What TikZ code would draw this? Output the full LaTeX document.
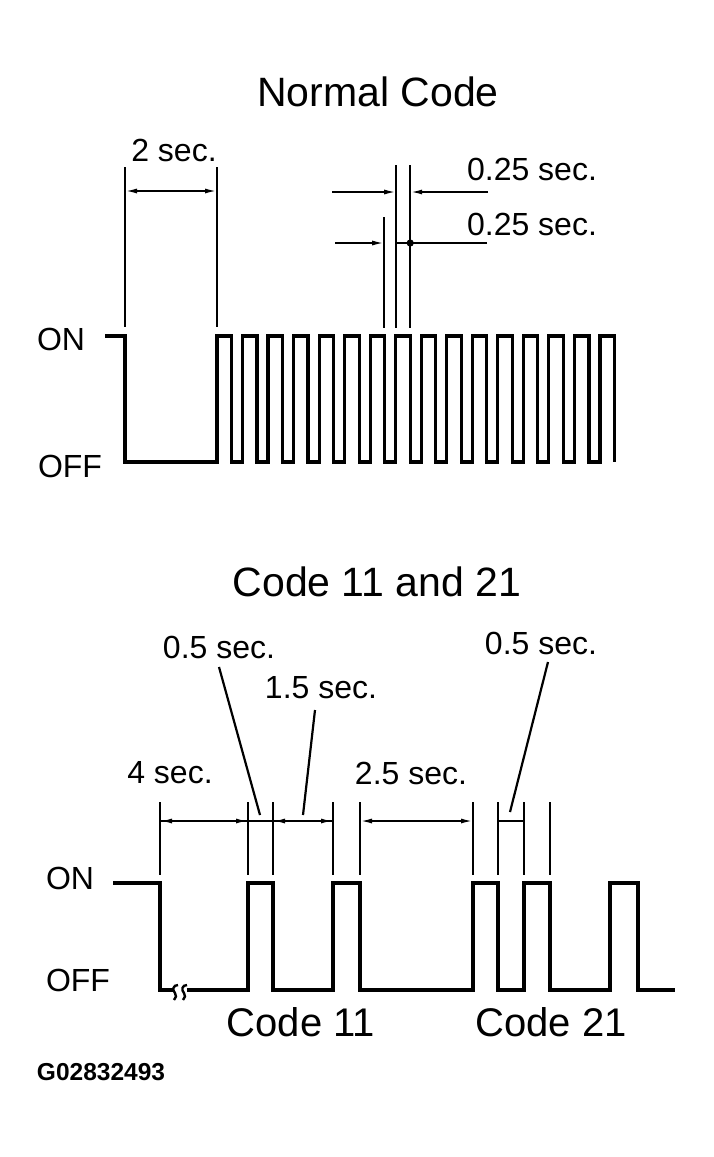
\documentclass[tikz,border=0pt]{standalone}
\usepackage{fontspec}
\setmainfont{Liberation Sans}
\usetikzlibrary{arrows.meta}
\begin{document}
\begin{tikzpicture}[x=1pt,y=-1pt,
 wave/.style={line width=3.2pt, line join=miter},
 ext/.style={line width=1.8pt},
 dim/.style={line width=1.8pt},
 tipL/.style={-{Latex[length=12pt,width=5pt]}},
 dimarr/.style={dim, {Latex[length=12pt,width=5pt]}-{Latex[length=12pt,width=5pt]}},
 leader/.style={line width=2.2pt},
 lbl/.style={inner sep=0pt, text depth=0pt, font=\fontsize{32}{38}\selectfont},
 ttl/.style={inner sep=0pt, text depth=0pt, font=\fontsize{41}{48}\selectfont},
 code/.style={inner sep=0pt, text depth=0pt, font=\fontsize{40}{46}\selectfont},
 idlbl/.style={inner sep=0pt, text depth=0pt, font=\bfseries\fontsize{24.5}{28}\selectfont},
]
\useasboundingbox[fill=white] (0,0) rectangle (714,1157);

% ---------------- Normal Code ----------------
\node[ttl] (t1) at (378,92) {Normal Code};
\node[lbl] (on1) at (61,339) {ON};
\node[lbl] (off1) at (70,466) {OFF};
\node[lbl] (s2) at (174,150) {2 sec.};
\node[lbl] (q1) at (532,169) {0.25 sec.};
\node[lbl] (q2) at (532,224) {0.25 sec.};

\draw[wave] (105,336) -- (125,336) -- (125,462) -- (217,462)
  \foreach \k in {0,...,15} {
    -- ({217+25.53*\k},462) -- ({217+25.53*\k},336)
    -- ({231.5+25.53*\k},336) -- ({231.5+25.53*\k},462) };

% extension lines
\draw[ext] (125,167) -- (125,327);
\draw[ext] (217,167) -- (217,327);
\draw[ext] (384.2,217) -- (384.2,328);
\draw[ext] (396.2,165) -- (396.2,328);
\draw[ext] (410.2,165) -- (410.2,328);

% dimension arrows
\draw[dimarr] (125,191) -- (217,191);
\draw[dim,tipL] (332,192) -- (396.2,192);
\draw[dim,tipL] (488,192) -- (410.2,192);
\draw[dim,tipL] (335,243) -- (384.2,243);
\draw[dim] (487,243) -- (397,243);
\fill (410.2,243) circle (3.6pt);

% ---------------- Code 11 and 21 ----------------
\node[ttl] (t2) at (377,582) {Code 11 and 21};
\node[lbl] (on2) at (70,878) {ON};
\node[lbl] (off2) at (78,980) {OFF};
\node[lbl] (h1) at (219,647) {0.5 sec.};
\node[lbl] (h2) at (321,687) {1.5 sec.};
\node[lbl] (f4) at (170,772) {4 sec.};
\node[lbl] (f25) at (411,773) {2.5 sec.};
\node[lbl] (h3) at (541,643) {0.5 sec.};
\node[code] (c11) at (301,1022) {Code 11};
\node[code] (c21) at (551,1022) {Code 21};
\node[idlbl] (gid) at (101,1072) {G02832493};

\draw[wave] (113,883) -- (160,883) -- (160,990) -- (173,990);
\draw[wave] (187,990) -- (248,990) -- (248,883) -- (273,883) -- (273,990)
  -- (333,990) -- (333,883) -- (360,883) -- (360,990)
  -- (473,990) -- (473,883) -- (498,883) -- (498,990)
  -- (524,990) -- (524,883) -- (550,883) -- (550,990)
  -- (610,990) -- (610,883) -- (638,883) -- (638,990) -- (675,990);
% break marks
\draw[line width=2.4pt] (178,985) .. controls (173,985) and (172,990) .. (175,993)
  .. controls (177,995) and (176,998) .. (174,1000);
\draw[line width=2.4pt] (187,985) .. controls (182,985) and (181,990) .. (184,993)
  .. controls (186,995) and (185,998) .. (183,1000);

% extension lines
\foreach \x in {160,248,273,333,360,473,498,524,550}
  \draw[ext] (\x,802) -- (\x,875);

% dimensions
\draw[dim] (160,821) -- (333,821);
\draw[dimarr] (160,821) -- (248,821);
\draw[dimarr] (273,821) -- (333,821);
\draw[dimarr] (360,821) -- (473,821);
\draw[dim] (498,821) -- (524,821);

% leaders
\draw[leader] (219,667) -- (260,815);
\draw[leader] (315,710) -- (303,815);
\draw[leader] (548,662) -- (510,812);
\end{tikzpicture}
\end{document}
